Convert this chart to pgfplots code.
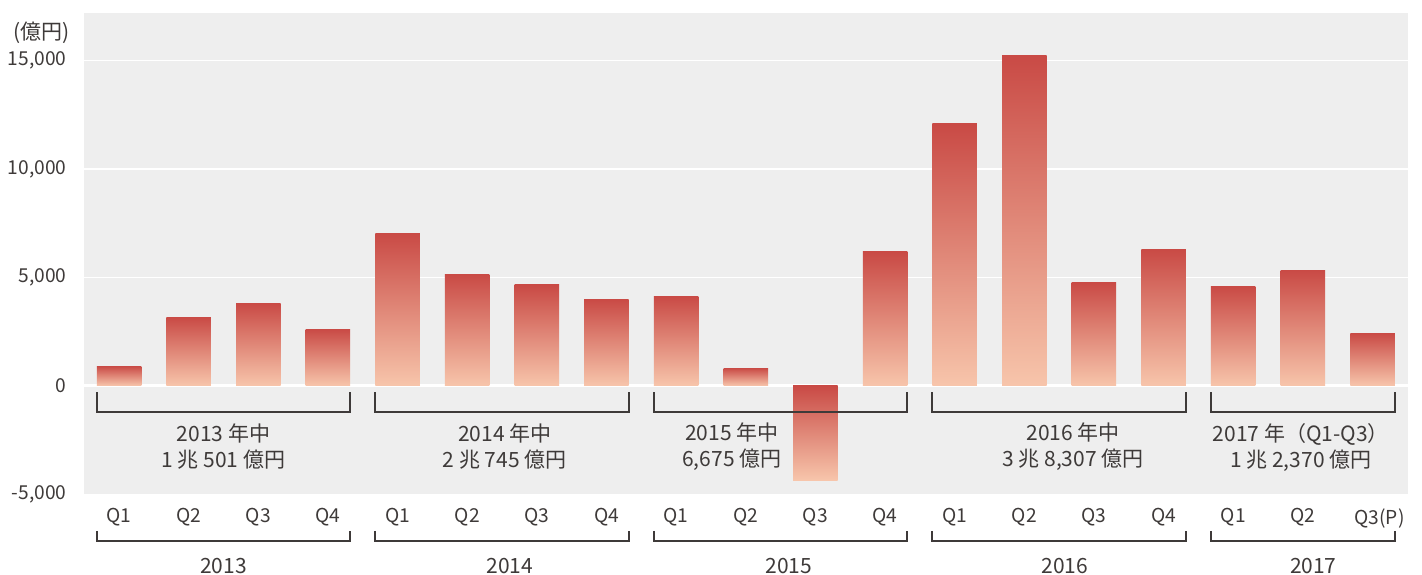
\documentclass[border=0pt]{standalone}
\usepackage{fontspec}
\setmainfont{Noto Sans CJK JP}
\usepackage{pgfplots}
\pgfplotsset{compat=1.18}
\definecolor{bggray}{HTML}{EEEEEE}
\definecolor{bartop}{HTML}{C94A45}
\definecolor{barbot}{HTML}{F7C5AB}
\definecolor{ink}{HTML}{3E3A39}

% bracket: x from, x to, y of the ends, y of the bar
\newcommand{\brk}[4]{\draw[ink, line width=0.9pt] (axis cs:#1,#3) -- (axis cs:#1,#4) -- (axis cs:#2,#4) -- (axis cs:#2,#3);}

\begin{document}
\begin{tikzpicture}[lbl/.style={font=\fontsize{10.5}{13}\selectfont, text=ink, align=center}]
\path[use as bounding box] (-42pt,-39.9pt) rectangle (669pt,247.1pt);
\begin{axis}[
  at={(0pt,0pt)}, anchor=south west,
  scale only axis, width=662pt, height=240.6pt,
  xmin=-0.503, xmax=18.51, ymin=-5000, ymax=17196,
  axis line style={draw=none},
  axis background/.style={fill=bggray},
  major tick length=0pt,
  ymajorgrids, grid style={white, line width=0.65pt},
  ytick={-5000,0,5000,10000,15000},
  yticklabels={{-5,000},{0},{5,000},{10,000},{15,000}},
  extra y ticks={0}, extra y tick labels={},
  extra y tick style={grid style={white, line width=1.5pt}},
  xtick={0,...,18},
  xticklabels={Q1,Q2,Q3,Q4,Q1,Q2,Q3,Q4,Q1,Q2,Q3,Q4,Q1,Q2,Q3,Q4,Q1,Q2,{\hspace*{7pt}Q3(P)}},
  tick label style={font=\fontsize{9.6}{12}\selectfont, text=ink},
  yticklabel style={inner sep=0pt, xshift=-8.5pt},
  xticklabel style={inner sep=0pt, anchor=north, yshift=-7pt},
  clip=false,
  mybar/.style={ybar, bar width=22.25pt, bar shift=0pt, draw=none, top color=bartop, bottom color=barbot},
]
% one plot per bar, so that each bar gets its own gradient
\addplot[mybar] coordinates {(0,913)};
\addplot[mybar] coordinates {(1,3173)};
\addplot[mybar] coordinates {(2,3819)};
\addplot[mybar] coordinates {(3,2620)};
\addplot[mybar] coordinates {(4,7048)};
\addplot[mybar] coordinates {(5,5157)};
\addplot[mybar] coordinates {(6,4650)};
\addplot[mybar] coordinates {(7,4004)};
\addplot[mybar] coordinates {(8,4142)};
\addplot[mybar] coordinates {(9,821)};
\addplot[mybar] coordinates {(10,-4345)};
\addplot[mybar] coordinates {(11,6172)};
\addplot[mybar] coordinates {(12,12076)};
\addplot[mybar] coordinates {(13,15258)};
\addplot[mybar] coordinates {(14,4788)};
\addplot[mybar] coordinates {(15,6310)};
\addplot[mybar] coordinates {(16,4603)};
\addplot[mybar] coordinates {(17,5341)};
\addplot[mybar] coordinates {(18,2435)};

\brk{-0.32}{3.32}{-286}{-1209}
\brk{3.68}{7.32}{-286}{-1209}
\brk{7.68}{11.32}{-286}{-1209}
\brk{11.68}{15.32}{-286}{-1209}
\brk{15.68}{18.32}{-286}{-1209}

\brk{-0.32}{3.32}{-6697}{-7159}
\brk{3.68}{7.32}{-6697}{-7159}
\brk{7.68}{11.32}{-6697}{-7159}
\brk{11.68}{15.32}{-6697}{-7159}
\brk{15.68}{18.32}{-6697}{-7159}

\node[lbl] at (axis cs:1.5,-2823) {2013 年中\\1 兆 501 億円};
\node[lbl] at (axis cs:5.54,-2823) {2014 年中\\2 兆 745 億円};
\node[lbl] at (axis cs:8.80,-2823) {2015 年中\\6,675 億円};
\node[lbl] at (axis cs:13.70,-2823) {2016 年中\\3 兆 8,307 億円};
\node[lbl] at (axis cs:16.97,-2823) {2017 年（Q1-Q3）\\1 兆 2,370 億円};

\node[lbl] at (axis cs:1.5,-8312) {2013};
\node[lbl] at (axis cs:5.61,-8312) {2014};
\node[lbl] at (axis cs:9.62,-8312) {2015};
\node[lbl] at (axis cs:13.58,-8312) {2016};
\node[lbl] at (axis cs:17.15,-8312) {2017};

\node[lbl, anchor=east, inner sep=0pt] at (axis cs:-0.704,16300) {(億円)};
\end{axis}
\end{tikzpicture}
\end{document}
